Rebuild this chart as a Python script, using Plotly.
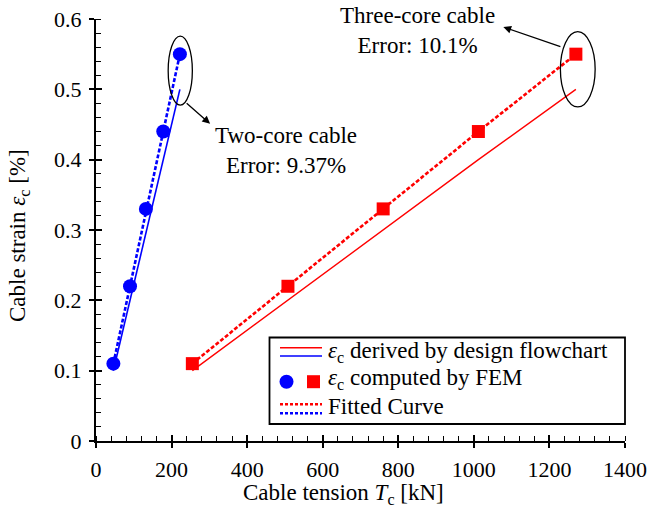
import plotly.graph_objects as go

# ---- data ----
two_core_T = [46, 90, 132, 178, 222]          # kN
three_core_T = [255, 508, 760, 1012, 1270]     # kN
fem_strain = [0.11, 0.22, 0.33, 0.44, 0.55]    # %
design_strain = [0.10, 0.20, 0.30, 0.40, 0.50] # %

x_ticks = [0, 200, 400, 600, 800, 1000, 1200, 1400]
y_ticks = [0, 0.1, 0.2, 0.3, 0.4, 0.5, 0.6]
y_tick_text = ["0", "0.1", "0.2", "0.3", "0.4", "0.5", "0.6"]

BLUE = "rgb(0,0,255)"
RED = "rgb(255,0,0)"
FONT = "Liberation Serif"
FS_TICK = 22
FS_TXT = 23

W, H = 656, 510
L, R, T, B = 96, 31, 19, 69
PW, PH = W - L - R, H - T - B

def px(xp):
    return (xp - L) / PW

def py(yp):
    return (H - B - yp) / PH

fig = go.Figure()

# design flowchart (solid)
fig.add_trace(go.Scatter(x=two_core_T, y=design_strain, mode="lines",
                         line=dict(color=BLUE, width=1.6), showlegend=False))
fig.add_trace(go.Scatter(x=three_core_T, y=design_strain, mode="lines",
                         line=dict(color=RED, width=1.4), showlegend=False))
# fitted curve (dashed)
fig.add_trace(go.Scatter(x=two_core_T, y=fem_strain, mode="lines",
                         line=dict(color=BLUE, width=2.6, dash="4px,2px"), showlegend=False))
fig.add_trace(go.Scatter(x=three_core_T, y=fem_strain, mode="lines",
                         line=dict(color=RED, width=2.6, dash="4px,2px"), showlegend=False))
# FEM points
fig.add_trace(go.Scatter(x=two_core_T, y=fem_strain, mode="markers",
                         marker=dict(color=BLUE, size=14, symbol="circle"), showlegend=False))
fig.add_trace(go.Scatter(x=three_core_T, y=fem_strain, mode="markers",
                         marker=dict(color=RED, size=13, symbol="square"), showlegend=False))
# helper trace so the overlay axes (inner half of major ticks) are drawn
fig.add_trace(go.Scatter(x=[None], y=[None], xaxis="x2", yaxis="y2", showlegend=False,
                         hoverinfo="skip"))

axis_common = dict(showline=True, linecolor="black", linewidth=2, showgrid=False,
                   zeroline=False, ticks="outside", ticklen=5, tickwidth=1.5,
                   tickcolor="black", automargin=False,
                   tickfont=dict(family=FONT, size=FS_TICK, color="black"))

fig.update_layout(
    width=W, height=H,
    margin=dict(l=L, r=R, t=T, b=B),
    paper_bgcolor="white", plot_bgcolor="white",
    font=dict(family=FONT, size=FS_TXT, color="black"),
    xaxis=dict(range=[0, 1400], tickvals=x_ticks, ticktext=[str(v) for v in x_ticks],
               minor=dict(ticks="inside", dtick=40, tick0=0, ticklen=5, tickwidth=1.2,
                          tickcolor="black"),
               ticklabelstandoff=3,
               **axis_common),
    yaxis=dict(range=[0, 0.6], tickvals=y_ticks, ticktext=y_tick_text,
               minor=dict(ticks="inside", dtick=0.02, tick0=0, ticklen=5, tickwidth=1.2,
                          tickcolor="black"),
               ticklabelstandoff=3,
               **axis_common),
    xaxis2=dict(range=[0, 1400], overlaying="x", tickvals=x_ticks, showticklabels=False,
                ticks="inside", ticklen=6, tickwidth=1.5, tickcolor="black", automargin=False,
                showline=False, showgrid=False, zeroline=False),
    yaxis2=dict(range=[0, 0.6], overlaying="y", tickvals=y_ticks, showticklabels=False,
                ticks="inside", ticklen=6, tickwidth=1.5, tickcolor="black", automargin=False,
                showline=False, showgrid=False, zeroline=False),
)

shapes = []
# ellipses
shapes.append(dict(type="circle", xref="x", yref="y", x0=191, x1=255, y0=0.4775, y1=0.5757,
                   line=dict(color="black", width=1.3)))
shapes.append(dict(type="circle", xref="x", yref="y", x0=1229, x1=1321, y0=0.475, y1=0.582,
                   line=dict(color="black", width=1.3)))

# custom legend box
shapes.append(dict(type="rect", xref="paper", yref="paper", x0=px(269.5), x1=px(625),
                   y0=py(424), y1=py(337.5), line=dict(color="black", width=1.8),
                   fillcolor="white"))
lx0, lx1 = px(280), px(322)
shapes.append(dict(type="line", xref="paper", yref="paper", x0=lx0, x1=lx1, y0=py(347.7), y1=py(347.7),
                   line=dict(color=RED, width=1.6)))
shapes.append(dict(type="line", xref="paper", yref="paper", x0=lx0, x1=lx1, y0=py(356), y1=py(356),
                   line=dict(color=BLUE, width=1.6)))
shapes.append(dict(type="line", xref="paper", yref="paper", x0=lx0, x1=lx1, y0=py(404.3), y1=py(404.3),
                   line=dict(color=RED, width=2.4, dash="3px,2px")))
shapes.append(dict(type="line", xref="paper", yref="paper", x0=lx0, x1=lx1, y0=py(413.3), y1=py(413.3),
                   line=dict(color=BLUE, width=2.4, dash="3px,2px")))
shapes.append(dict(type="circle", xref="paper", yref="paper", xsizemode="pixel", ysizemode="pixel",
                   xanchor=px(286.5), yanchor=py(381.7), x0=-7, x1=7, y0=-7, y1=7,
                   fillcolor=BLUE, line=dict(width=0)))
shapes.append(dict(type="rect", xref="paper", yref="paper", xsizemode="pixel", ysizemode="pixel",
                   xanchor=px(313.5), yanchor=py(381.7), x0=-6.5, x1=6.5, y0=-6.5, y1=6.5,
                   fillcolor=RED, line=dict(width=0)))
fig.update_layout(shapes=shapes)

ann = []
legend_texts = ["<i>ε</i><sub>c</sub> derived by design flowchart",
                "<i>ε</i><sub>c</sub> computed by FEM",
                "Fitted Curve"]
for txt, yp in zip(legend_texts, [351.7, 378.5, 406.7]):
    ann.append(dict(text=txt, xref="paper", yref="paper", x=px(326), y=py(yp),
                    xanchor="left", yanchor="middle", showarrow=False,
                    font=dict(family=FONT, size=FS_TXT, color="black")))
# arrows
ann.append(dict(x=302, y=0.451, ax=236, ay=0.482, xref="x", yref="y", axref="x", ayref="y",
                text="", showarrow=True, arrowhead=2, arrowsize=1.2, arrowwidth=1.3,
                arrowcolor="black"))
ann.append(dict(x=1078, y=0.5885, ax=1233, ay=0.560, xref="x", yref="y", axref="x", ayref="y",
                text="", showarrow=True, arrowhead=2, arrowsize=1.2, arrowwidth=1.3,
                arrowcolor="black"))
ann.append(dict(x=503, y=0.413, xref="x", yref="y", showarrow=False,
                text="Two-core cable<br>Error: 9.37%", align="center",
                font=dict(family=FONT, size=FS_TXT, color="black")))
ann.append(dict(x=852, y=0.583, xref="x", yref="y", showarrow=False,
                text="Three-core cable<br>Error: 10.1%", align="center",
                font=dict(family=FONT, size=FS_TXT, color="black")))
# axis titles
ann.append(dict(text="Cable tension <i>T</i><sub>c</sub> [kN]", xref="paper", yref="paper",
                x=px(343), y=py(494), xanchor="center", yanchor="middle", showarrow=False,
                font=dict(family=FONT, size=FS_TXT, color="black")))
ann.append(dict(text="Cable strain <i>ε</i><sub>c</sub> [%]", xref="paper", yref="paper",
                x=px(19), y=py(236), xanchor="center", yanchor="middle", showarrow=False,
                textangle=-90, font=dict(family=FONT, size=FS_TXT, color="black")))
fig.update_layout(annotations=ann)

fig.write_html("out.html", config={"displayModeBar": False},
               post_script="document.body.style.margin='0px';")
